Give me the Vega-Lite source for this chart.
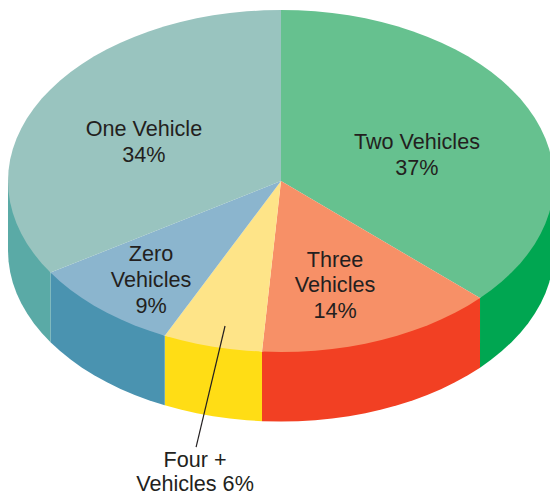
{"$schema":"https://vega.github.io/schema/vega-lite/v6.json","width":550,"height":493,"padding":0,"autosize":{"type":"none"},"background":"white","config":{"view":{"stroke":null}},
"datasets":{
"sides":[
{"s":"Two side","o":1,"x":1,"y":-0.407},{"s":"Two side","o":2,"x":0.998,"y":-0.4698},{"s":"Two side","o":3,"x":0.9921,"y":-0.5323},{"s":"Two side","o":4,"x":0.9823,"y":-0.5944},{"s":"Two side","o":5,"x":0.9686,"y":-0.6557},{"s":"Two side","o":6,"x":0.9511,"y":-0.716},{"s":"Two side","o":7,"x":0.9298,"y":-0.7751},{"s":"Two side","o":8,"x":0.9048,"y":-0.8328},{"s":"Two side","o":9,"x":0.8763,"y":-0.8888},{"s":"Two side","o":10,"x":0.8443,"y":-0.9428},{"s":"Two side","o":11,"x":0.809,"y":-0.9948},{"s":"Two side","o":12,"x":0.7705,"y":-1.0444},{"s":"Two side","o":13,"x":0.729,"y":-1.0915},{"s":"Two side","o":14,"x":0.729,"y":-0.6845},{"s":"Two side","o":15,"x":1,"y":0},
{"s":"Three side","o":1,"x":0.729,"y":-1.0915},{"s":"Three side","o":2,"x":0.6845,"y":-1.136},{"s":"Three side","o":3,"x":0.6374,"y":-1.1775},{"s":"Three side","o":4,"x":0.5878,"y":-1.216},{"s":"Three side","o":5,"x":0.5358,"y":-1.2513},{"s":"Three side","o":6,"x":0.4818,"y":-1.2833},{"s":"Three side","o":7,"x":0.4258,"y":-1.3118},{"s":"Three side","o":8,"x":0.3681,"y":-1.3368},{"s":"Three side","o":9,"x":0.309,"y":-1.3581},{"s":"Three side","o":10,"x":0.2487,"y":-1.3756},{"s":"Three side","o":11,"x":0.1874,"y":-1.3893},{"s":"Three side","o":12,"x":0.1253,"y":-1.3991},{"s":"Three side","o":13,"x":0.0628,"y":-1.405},{"s":"Three side","o":14,"x":0,"y":-1.407},{"s":"Three side","o":15,"x":-0.0696,"y":-1.4046},{"s":"Three side","o":16,"x":-0.0696,"y":-0.9976},{"s":"Three side","o":17,"x":0.729,"y":-0.6845},
{"s":"Four side","o":1,"x":-0.0696,"y":-1.4046},{"s":"Four side","o":2,"x":-0.1253,"y":-1.3991},{"s":"Four side","o":3,"x":-0.1874,"y":-1.3893},{"s":"Four side","o":4,"x":-0.2487,"y":-1.3756},{"s":"Four side","o":5,"x":-0.309,"y":-1.3581},{"s":"Four side","o":6,"x":-0.3681,"y":-1.3368},{"s":"Four side","o":7,"x":-0.4258,"y":-1.3118},{"s":"Four side","o":8,"x":-0.4258,"y":-0.9048},{"s":"Four side","o":9,"x":-0.0696,"y":-0.9976},
{"s":"Zero side","o":1,"x":-0.4258,"y":-1.3118},{"s":"Zero side","o":2,"x":-0.4818,"y":-1.2833},{"s":"Zero side","o":3,"x":-0.5358,"y":-1.2513},{"s":"Zero side","o":4,"x":-0.5878,"y":-1.216},{"s":"Zero side","o":5,"x":-0.6374,"y":-1.1775},{"s":"Zero side","o":6,"x":-0.6845,"y":-1.136},{"s":"Zero side","o":7,"x":-0.729,"y":-1.0915},{"s":"Zero side","o":8,"x":-0.7705,"y":-1.0444},{"s":"Zero side","o":9,"x":-0.809,"y":-0.9948},{"s":"Zero side","o":10,"x":-0.8443,"y":-0.9428},{"s":"Zero side","o":11,"x":-0.8443,"y":-0.5358},{"s":"Zero side","o":12,"x":-0.4258,"y":-0.9048},
{"s":"One side","o":1,"x":-0.8443,"y":-0.9428},{"s":"One side","o":2,"x":-0.8763,"y":-0.8888},{"s":"One side","o":3,"x":-0.9048,"y":-0.8328},{"s":"One side","o":4,"x":-0.9298,"y":-0.7751},{"s":"One side","o":5,"x":-0.9511,"y":-0.716},{"s":"One side","o":6,"x":-0.9686,"y":-0.6557},{"s":"One side","o":7,"x":-0.9823,"y":-0.5944},{"s":"One side","o":8,"x":-0.9921,"y":-0.5323},{"s":"One side","o":9,"x":-0.998,"y":-0.4698},{"s":"One side","o":10,"x":-1,"y":-0.407},{"s":"One side","o":11,"x":-1,"y":0},{"s":"One side","o":12,"x":-0.8443,"y":-0.5358}
],
"tops":[
{"s":"Two","o":0,"x":0,"y":0},{"s":"Two","o":1,"x":0,"y":1},{"s":"Two","o":2,"x":0.0628,"y":0.998},{"s":"Two","o":3,"x":0.1253,"y":0.9921},{"s":"Two","o":4,"x":0.1874,"y":0.9823},{"s":"Two","o":5,"x":0.2487,"y":0.9686},{"s":"Two","o":6,"x":0.309,"y":0.9511},{"s":"Two","o":7,"x":0.3681,"y":0.9298},{"s":"Two","o":8,"x":0.4258,"y":0.9048},{"s":"Two","o":9,"x":0.4818,"y":0.8763},{"s":"Two","o":10,"x":0.5358,"y":0.8443},{"s":"Two","o":11,"x":0.5878,"y":0.809},{"s":"Two","o":12,"x":0.6374,"y":0.7705},{"s":"Two","o":13,"x":0.6845,"y":0.729},{"s":"Two","o":14,"x":0.729,"y":0.6845},{"s":"Two","o":15,"x":0.7705,"y":0.6374},{"s":"Two","o":16,"x":0.809,"y":0.5878},{"s":"Two","o":17,"x":0.8443,"y":0.5358},{"s":"Two","o":18,"x":0.8763,"y":0.4818},{"s":"Two","o":19,"x":0.9048,"y":0.4258},{"s":"Two","o":20,"x":0.9298,"y":0.3681},{"s":"Two","o":21,"x":0.9511,"y":0.309},{"s":"Two","o":22,"x":0.9686,"y":0.2487},{"s":"Two","o":23,"x":0.9823,"y":0.1874},{"s":"Two","o":24,"x":0.9921,"y":0.1253},{"s":"Two","o":25,"x":0.998,"y":0.0628},{"s":"Two","o":26,"x":1,"y":0},{"s":"Two","o":27,"x":0.998,"y":-0.0628},{"s":"Two","o":28,"x":0.9921,"y":-0.1253},{"s":"Two","o":29,"x":0.9823,"y":-0.1874},{"s":"Two","o":30,"x":0.9686,"y":-0.2487},{"s":"Two","o":31,"x":0.9511,"y":-0.309},{"s":"Two","o":32,"x":0.9298,"y":-0.3681},{"s":"Two","o":33,"x":0.9048,"y":-0.4258},{"s":"Two","o":34,"x":0.8763,"y":-0.4818},{"s":"Two","o":35,"x":0.8443,"y":-0.5358},{"s":"Two","o":36,"x":0.809,"y":-0.5878},{"s":"Two","o":37,"x":0.7705,"y":-0.6374},{"s":"Two","o":38,"x":0.729,"y":-0.6845},
{"s":"Three","o":0,"x":0,"y":0},{"s":"Three","o":1,"x":0.729,"y":-0.6845},{"s":"Three","o":2,"x":0.6845,"y":-0.729},{"s":"Three","o":3,"x":0.6374,"y":-0.7705},{"s":"Three","o":4,"x":0.5878,"y":-0.809},{"s":"Three","o":5,"x":0.5358,"y":-0.8443},{"s":"Three","o":6,"x":0.4818,"y":-0.8763},{"s":"Three","o":7,"x":0.4258,"y":-0.9048},{"s":"Three","o":8,"x":0.3681,"y":-0.9298},{"s":"Three","o":9,"x":0.309,"y":-0.9511},{"s":"Three","o":10,"x":0.2487,"y":-0.9686},{"s":"Three","o":11,"x":0.1874,"y":-0.9823},{"s":"Three","o":12,"x":0.1253,"y":-0.9921},{"s":"Three","o":13,"x":0.0628,"y":-0.998},{"s":"Three","o":14,"x":0,"y":-1},{"s":"Three","o":15,"x":-0.0696,"y":-0.9976},
{"s":"Four","o":0,"x":0,"y":0},{"s":"Four","o":1,"x":-0.0696,"y":-0.9976},{"s":"Four","o":2,"x":-0.1253,"y":-0.9921},{"s":"Four","o":3,"x":-0.1874,"y":-0.9823},{"s":"Four","o":4,"x":-0.2487,"y":-0.9686},{"s":"Four","o":5,"x":-0.309,"y":-0.9511},{"s":"Four","o":6,"x":-0.3681,"y":-0.9298},{"s":"Four","o":7,"x":-0.4258,"y":-0.9048},
{"s":"Zero","o":0,"x":0,"y":0},{"s":"Zero","o":1,"x":-0.4258,"y":-0.9048},{"s":"Zero","o":2,"x":-0.4818,"y":-0.8763},{"s":"Zero","o":3,"x":-0.5358,"y":-0.8443},{"s":"Zero","o":4,"x":-0.5878,"y":-0.809},{"s":"Zero","o":5,"x":-0.6374,"y":-0.7705},{"s":"Zero","o":6,"x":-0.6845,"y":-0.729},{"s":"Zero","o":7,"x":-0.729,"y":-0.6845},{"s":"Zero","o":8,"x":-0.7705,"y":-0.6374},{"s":"Zero","o":9,"x":-0.809,"y":-0.5878},{"s":"Zero","o":10,"x":-0.8443,"y":-0.5358},
{"s":"One","o":0,"x":0,"y":0},{"s":"One","o":1,"x":-0.8443,"y":-0.5358},{"s":"One","o":2,"x":-0.8763,"y":-0.4818},{"s":"One","o":3,"x":-0.9048,"y":-0.4258},{"s":"One","o":4,"x":-0.9298,"y":-0.3681},{"s":"One","o":5,"x":-0.9511,"y":-0.309},{"s":"One","o":6,"x":-0.9686,"y":-0.2487},{"s":"One","o":7,"x":-0.9823,"y":-0.1874},{"s":"One","o":8,"x":-0.9921,"y":-0.1253},{"s":"One","o":9,"x":-0.998,"y":-0.0628},{"s":"One","o":10,"x":-1,"y":0},{"s":"One","o":11,"x":-0.998,"y":0.0628},{"s":"One","o":12,"x":-0.9921,"y":0.1253},{"s":"One","o":13,"x":-0.9823,"y":0.1874},{"s":"One","o":14,"x":-0.9686,"y":0.2487},{"s":"One","o":15,"x":-0.9511,"y":0.309},{"s":"One","o":16,"x":-0.9298,"y":0.3681},{"s":"One","o":17,"x":-0.9048,"y":0.4258},{"s":"One","o":18,"x":-0.8763,"y":0.4818},{"s":"One","o":19,"x":-0.8443,"y":0.5358},{"s":"One","o":20,"x":-0.809,"y":0.5878},{"s":"One","o":21,"x":-0.7705,"y":0.6374},{"s":"One","o":22,"x":-0.729,"y":0.6845},{"s":"One","o":23,"x":-0.6845,"y":0.729},{"s":"One","o":24,"x":-0.6374,"y":0.7705},{"s":"One","o":25,"x":-0.5878,"y":0.809},{"s":"One","o":26,"x":-0.5358,"y":0.8443},{"s":"One","o":27,"x":-0.4818,"y":0.8763},{"s":"One","o":28,"x":-0.4258,"y":0.9048},{"s":"One","o":29,"x":-0.3681,"y":0.9298},{"s":"One","o":30,"x":-0.309,"y":0.9511},{"s":"One","o":31,"x":-0.2487,"y":0.9686},{"s":"One","o":32,"x":-0.1874,"y":0.9823},{"s":"One","o":33,"x":-0.1253,"y":0.9921},{"s":"One","o":34,"x":-0.0628,"y":0.998},{"s":"One","o":35,"x":0,"y":1}
],
"labels":[
{"t":"One Vehicle","x":-0.502,"y":0.304},{"t":"34%","x":-0.502,"y":0.152},
{"t":"Two Vehicles","x":0.498,"y":0.228},{"t":"37%","x":0.498,"y":0.076},
{"t":"Three","x":0.198,"y":-0.462},{"t":"Vehicles","x":0.198,"y":-0.608},{"t":"14%","x":0.198,"y":-0.76},
{"t":"Zero","x":-0.476,"y":-0.427},{"t":"Vehicles","x":-0.476,"y":-0.579},{"t":"9%","x":-0.476,"y":-0.731},
{"t":"Four +","x":-0.315,"y":-1.632},{"t":"Vehicles 6%","x":-0.315,"y":-1.772}
],
"leader":[{"x":-0.205,"y":-0.848,"x2":-0.311,"y2":-1.556}]
},
"layer":[
{"data":{"name":"sides"},"mark":{"type":"line","strokeWidth":0,"clip":true},"encoding":{"x":{"field":"x","type":"quantitative","scale":{"domain":[-1.0293,0.98535],"nice":false,"zero":false},"axis":null},"y":{"field":"y","type":"quantitative","scale":{"domain":[-1.82456,1.05848],"nice":false,"zero":false},"axis":null},"order":{"field":"o","type":"quantitative"},"fill":{"field":"s","type":"nominal","legend":null,"scale":{"domain":["Two side","Three side","Four side","Zero side","One side","Two","Three","Four","Zero","One"],"range":["#00A651","#F24023","#FFDD15","#4A93B0","#5AAAA6","#66C18F","#F79067","#FEE488","#8BB5CE","#99C4BF"]}}}},
{"data":{"name":"tops"},"mark":{"type":"line","strokeWidth":0,"clip":true},"encoding":{"x":{"field":"x","type":"quantitative","axis":null},"y":{"field":"y","type":"quantitative","axis":null},"order":{"field":"o","type":"quantitative"},"fill":{"field":"s","type":"nominal","legend":null}}},
{"data":{"name":"leader"},"mark":{"type":"rule","color":"#231F20","strokeWidth":1.2},"encoding":{"x":{"field":"x","type":"quantitative","axis":null},"y":{"field":"y","type":"quantitative","axis":null},"x2":{"field":"x2"},"y2":{"field":"y2"}}},
{"data":{"name":"labels"},"mark":{"type":"text","font":"Liberation Sans","fontSize":21.6,"dy":1,"color":"#231F20","align":"center","baseline":"middle"},"encoding":{"x":{"field":"x","type":"quantitative","axis":null},"y":{"field":"y","type":"quantitative","axis":null},"text":{"field":"t","type":"nominal"}}}
]}
